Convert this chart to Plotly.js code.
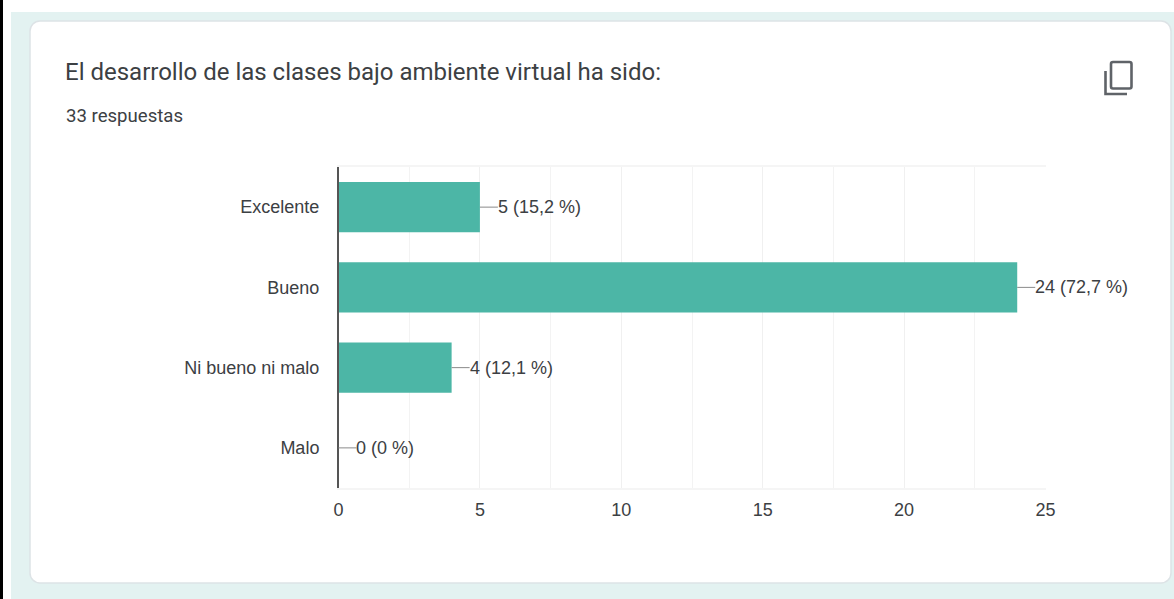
<!DOCTYPE html>
<html>
<head>
<meta charset="utf-8">
<script src="https://cdn.plot.ly/plotly-3.0.1.min.js"></script>
<style>html,body{margin:0;padding:0;background:#fff;overflow:hidden}#c{width:1174px;height:599px}</style>
</head>
<body>
<div id="c"></div>
<script>
var categories = ["Excelente", "Bueno", "Ni bueno ni malo", "Malo"];
var counts = [5, 24, 4, 0];
var valueLabels = ["5 (15,2 %)", "24 (72,7 %)", "4 (12,1 %)", "0 (0 %)"];
var xTicks = [0, 5, 10, 15, 20, 25];
var titleText = "El desarrollo de las clases bajo ambiente virtual ha sido:";
var subtitleText = "33 respuestas";

var W = 1174, H = 599;
function px(x){ return x / W; }
function py(y){ return 1 - y / H; }
function roundRect(x0, y0, x1, y1, r){
  var k = r * 0.45;
  return "M" + px(x0 + r) + "," + py(y0) + " L" + px(x1 - r) + "," + py(y0) +
    " C" + px(x1 - k) + "," + py(y0) + " " + px(x1) + "," + py(y0 + k) + " " + px(x1) + "," + py(y0 + r) +
    " L" + px(x1) + "," + py(y1 - r) +
    " C" + px(x1) + "," + py(y1 - k) + " " + px(x1 - k) + "," + py(y1) + " " + px(x1 - r) + "," + py(y1) +
    " L" + px(x0 + r) + "," + py(y1) +
    " C" + px(x0 + k) + "," + py(y1) + " " + px(x0) + "," + py(y1 - k) + " " + px(x0) + "," + py(y1 - r) +
    " L" + px(x0) + "," + py(y0 + r) +
    " C" + px(x0) + "," + py(y0 + k) + " " + px(x0 + k) + "," + py(y0) + " " + px(x0 + r) + "," + py(y0) + " Z";
}
function paperRect(x0, y0, x1, y1, fill){
  return {type:"rect", xref:"paper", yref:"paper", layer:"below",
    x0:px(x0), x1:px(x1), y0:py(y1), y1:py(y0), fillcolor:fill, line:{width:0}};
}
var iconColor = "#5f6368";
var shapes = [
  paperRect(0, 0, 3, 599, "#000000"),
  paperRect(11, 12, 1174, 599, "#e3f2f1"),
  {type:"path", xref:"paper", yref:"paper", layer:"below", path:roundRect(30, 21, 1171, 583, 10),
   fillcolor:"#ffffff", line:{color:"#dde3e6", width:1.5}},
  {type:"path", xref:"paper", yref:"paper", layer:"above", path:roundRect(1111, 62, 1131.5, 88.5, 2),
   fillcolor:"rgba(0,0,0,0)", line:{color:iconColor, width:2.6}},
  {type:"path", xref:"paper", yref:"paper", layer:"above",
   path:"M"+px(1105.5)+","+py(71)+" L"+px(1105.5)+","+py(94)+" L"+px(1127)+","+py(94),
   line:{color:iconColor, width:2.6}}
];

var annotations = categories.map(function(c, i){
  return {x:counts[i], y:c, xref:"x", yref:"y", text:valueLabels[i], showarrow:true, arrowhead:0,
    arrowwidth:1, arrowcolor:"#8a8a8a", ax:18, ay:0, xanchor:"left", yanchor:"middle", borderpad:0, borderwidth:0,
    standoff:0, font:{family:"Liberation Sans", size:18, color:"#3c4043"}};
});
annotations.push({xref:"paper", yref:"paper", x:px(65), y:py(116), xanchor:"left", yanchor:"middle",
  showarrow:false, text:subtitleText, font:{family:"Roboto", size:18.6, color:"#3c4043"}, borderpad:0});

var trace = {type:"bar", orientation:"h", y:categories, x:counts, marker:{color:"#4cb6a6", line:{width:0}},
  hoverinfo:"skip", cliponaxis:false};

var layout = {
  width:W, height:H, margin:{l:0, r:0, t:0, b:0, pad:0}, paper_bgcolor:"#ffffff", plot_bgcolor:"rgba(0,0,0,0)",
  showlegend:false, bargap:0.375,
  title:{text:titleText, xref:"paper", yref:"paper", x:px(65), y:py(72), xanchor:"left", yanchor:"middle",
    font:{family:"Roboto", size:24, color:"#3c4043"}},
  xaxis:{domain:[px(338.5), px(1045.5)], range:[0, 25], tickvals:xTicks, ticktext:xTicks.map(String),
    showgrid:true, gridcolor:"#f0f0f0", gridwidth:1, zeroline:false, showline:true, linecolor:"#f5f5f5", linewidth:2, mirror:true,
    ticks:"", ticklabelstandoff:4, tickfont:{family:"Liberation Sans", size:18, color:"#3c4043"},
    minor:{dtick:2.5, tick0:0, showgrid:true, gridcolor:"#f3f3f3", gridwidth:1}},
  yaxis:{domain:[py(488), py(167)], autorange:"reversed", categoryorder:"array", categoryarray:categories, type:"category",
    showgrid:false, zeroline:false, showline:true, linecolor:"#555555", linewidth:1.5, anchor:"x",
    ticks:"", ticklabelstandoff:14, tickfont:{family:"Liberation Sans", size:18, color:"#3c4043"}},
  shapes:shapes, annotations:annotations
};
Plotly.newPlot("c", [trace], layout, {displayModeBar:false, staticPlot:true});
</script>
</body>
</html>
